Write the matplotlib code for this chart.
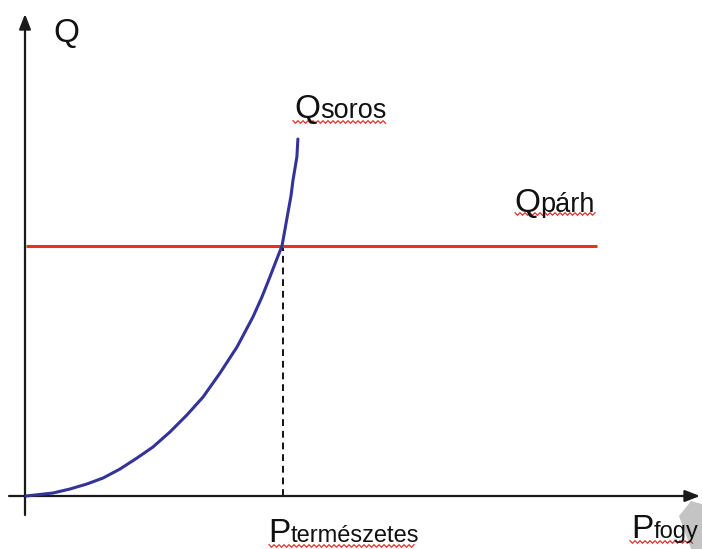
import numpy as np
import matplotlib
matplotlib.use("Agg")
import matplotlib.pyplot as plt
from matplotlib.patches import Polygon

plt.rcParams['font.family'] = ['Liberation Sans', 'DejaVu Sans']

# Data (normalized: P_termeszetes = 1, Q_parh = 1)
soros_p = [0.0, 0.105, 0.171, 0.237, 0.300, 0.366, 0.432, 0.494, 0.560, 0.626, 0.689,
           0.755, 0.821, 0.883, 0.918, 0.949, 0.973, 0.996, 1.008, 1.019, 1.031, 1.039,
           1.054, 1.058]
soros_q = [0.0, 0.012, 0.028, 0.048, 0.072, 0.108, 0.152, 0.196, 0.256, 0.324, 0.396,
           0.492, 0.596, 0.716, 0.796, 0.876, 0.940, 1.000, 1.068, 1.132, 1.200, 1.264,
           1.356, 1.428]
parh_p = [0.0, 2.22]
parh_q = [1.0, 1.0]
p_term = 1.0
q_cross = 1.0

W, H = 702, 549
fig = plt.figure(figsize=(W / 100, H / 100), dpi=100)
fig.patch.set_facecolor('white')
ax = fig.add_axes([0, 0, 1, 1])
ox, oy = 26, 496          # origin pixel
sx, sy = 257.0, 250.0     # pixels per unit
ax.set_xlim(-ox / sx, (W - ox) / sx)
ax.set_ylim(-(H - oy) / sy, oy / sy)
ax.axis('off')

def px(x, y):
    """pixel (from top-left) -> figure fraction"""
    return (x / W, 1 - y / H)

axis_col = '#1a1a1a'
# axes with arrows
ax.annotate('', xy=(px(700, 0)[0], px(0, oy)[1]), xytext=(px(9, 0)[0], px(0, oy)[1]),
            xycoords='figure fraction', textcoords='figure fraction',
            arrowprops=dict(arrowstyle='-|>,head_length=0.9,head_width=0.35',
                            color=axis_col, lw=1.6, shrinkA=0, shrinkB=0))
ax.annotate('', xy=px(25, 14), xytext=px(25, 515),
            xycoords='figure fraction', textcoords='figure fraction',
            arrowprops=dict(arrowstyle='-|>,head_length=0.9,head_width=0.35',
                            color=axis_col, lw=1.6, shrinkA=0, shrinkB=0))

# dashed vertical
ax.plot([p_term, p_term], [0, q_cross], color='#111111', lw=1.4, ls=(0, (3.5, 2.5)), zorder=2)
# red horizontal
ax.plot(parh_p, parh_q, color='#e8321e', lw=2.2, zorder=3, solid_capstyle='butt')
# blue curve
ax.plot(soros_p, soros_q, color='#33339a', lw=2.2, zorder=4,
        solid_capstyle='round', solid_joinstyle='round')

# gray artifact at bottom right
poly = Polygon([px(679, 516), px(691, 501), px(702, 504), px(702, 549), px(691, 549)],
               closed=True, transform=fig.transFigure, facecolor='#c4c4c4',
               edgecolor='none', zorder=0.5)
fig.patches.append(poly)

def label(x, base_y, big, small, small_size=18, big_size=24):
    t = fig.text(*px(x, base_y), big, fontsize=big_size, va='baseline', ha='left', color='#111111')
    fig.canvas.draw()
    bb = t.get_window_extent()
    fig.text(bb.x1 / W, 1 - base_y / H, small, fontsize=small_size, va='baseline', ha='left',
             color='#111111')

def squiggle(x0, x1, y, amp=1.3, period=5.0):
    xs = np.arange(x0, x1 + 0.01, period / 2)
    ys = y + amp * np.where(np.arange(len(xs)) % 2 == 0, -1, 1)
    fig.lines.append(plt.Line2D(xs / W, 1 - ys / H, transform=fig.transFigure,
                                color='#e03030', lw=0.9))

fig.text(*px(53, 42), 'Q', fontsize=24, va='baseline', ha='left', color='#111111')
label(294, 118, 'Q', 'soros', small_size=19.5)
label(514, 212, 'Q', 'párh', small_size=19.5)
label(268, 542, 'P', 'természetes', small_size=17)
label(631, 538, 'P', 'fogy', small_size=17)

squiggle(293, 387, 122)
squiggle(515, 597, 214)
squiggle(269, 415, 546)
squiggle(630, 693, 542)

fig.savefig('out.png', dpi=100, facecolor='white')
